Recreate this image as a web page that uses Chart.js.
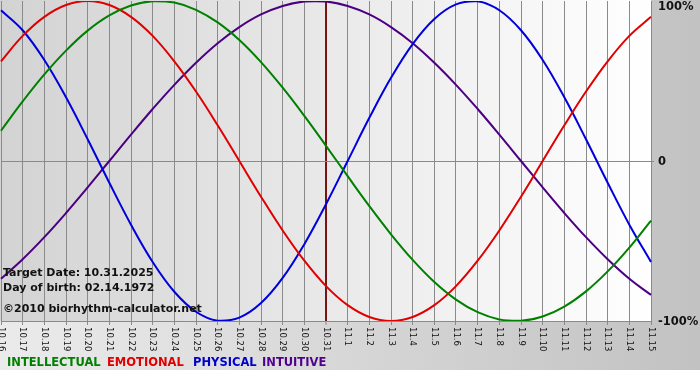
<!DOCTYPE html>
<html>
<head>
<meta charset="utf-8">
<script src="https://cdn.jsdelivr.net/npm/chart.js@4/dist/chart.umd.min.js"></script>
<style>
  html, body { margin: 0; padding: 0; background: #ffffff; }
  #wrap { width: 700px; height: 380px; }
</style>
</head>
<body>
<div id="wrap"><canvas id="c" width="700" height="380"></canvas></div>
<script>
// ---- data ----
const dayLabels = ['10.16','10.17','10.18','10.19','10.20','10.21','10.22','10.23','10.24','10.25','10.26','10.27','10.28','10.29','10.30','10.31',
  '11.1','11.2','11.3','11.4','11.5','11.6','11.7','11.8','11.9','11.10','11.11','11.12','11.13','11.14','11.15'];
const intellectual = [18.9,37.2,54.1,69.0,81.5,91.0,97.2,99.9,99.0,94.5,86.6,75.6,61.8,45.8,28.2,9.5,-9.5,-28.2,-45.8,-61.8,-75.6,-86.6,-94.5,-99.0,-99.9,-97.2,-91.0,-81.5,-69.0,-54.1,-37.2];
const emotional    = [62.3,78.2,90.1,97.5,100,97.5,90.1,78.2,62.3,43.4,22.3,0,-22.3,-43.4,-62.3,-78.2,-90.1,-97.5,-100,-97.5,-90.1,-78.2,-62.3,-43.4,-22.3,0,22.3,43.4,62.3,78.2,90.1];
const physical     = [94.2,81.7,63.1,39.8,13.6,-13.6,-39.8,-63.1,-81.7,-94.2,-99.8,-97.9,-88.8,-73.1,-52.0,-27.0,0,27.0,52.0,73.1,88.8,97.9,99.8,94.2,81.7,63.1,39.8,13.6,-13.6,-39.8,-63.1];
const intuitive    = [-73.6,-61.4,-47.6,-32.5,-16.5,0,16.5,32.5,47.6,61.4,73.6,83.7,91.6,96.9,99.7,99.7,96.9,91.6,83.7,73.6,61.4,47.6,32.5,16.5,0,-16.5,-32.5,-47.6,-61.4,-73.6,-83.7];
const yTickValues  = [-100, 0, 100];
const yTickLabels  = ['-100%', '0', '100%'];
const targetLabel  = '10.31';
const infoLines    = ['Target Date: 10.31.2025', 'Day of birth: 02.14.1972', '\u00A92010 biorhythm-calculator.net'];
const legendNames  = ['INTELLECTUAL', 'EMOTIONAL', 'PHYSICAL', 'INTUITIVE'];

const COLORS = { intellectual: '#008000', emotional: '#e00000', physical: '#0000dd', intuitive: '#4b0082' };
const LEGEND_COLORS = ['#008000', '#e00000', '#0000cc', '#500090'];
const GRID = '#8a8a8a';
const targetIndex = dayLabels.indexOf(targetLabel);

const bgPlugin = {
  id: 'bg',
  beforeDraw(chart) {
    const { ctx, chartArea: a } = chart;
    ctx.save();
    ctx.fillStyle = '#ffffff';
    ctx.fillRect(0, 0, 700, 380);
    let g = ctx.createLinearGradient(0, 0, 700, 0);
    g.addColorStop(0, '#ebebeb');
    g.addColorStop(1, '#c2c2c2');
    ctx.fillStyle = g;
    ctx.fillRect(0, 0, 700, 370);
    g = ctx.createLinearGradient(a.left, 0, a.right, 0);
    g.addColorStop(0, '#d3d3d3');
    g.addColorStop(1, '#ffffff');
    ctx.fillStyle = g;
    ctx.fillRect(0, 0, a.right, a.bottom);
    ctx.restore();
  }
};

const textPlugin = {
  id: 'texts',
  afterDraw(chart) {
    const { ctx, chartArea: a } = chart;
    const xs = chart.scales.x, ys = chart.scales.y;
    ctx.save();
    ctx.fillStyle = '#111111';
    ctx.font = '8.5px "DejaVu Sans"';
    ctx.textAlign = 'left';
    ctx.textBaseline = 'middle';
    xs.ticks.forEach((t, i) => {
      const x = xs.getPixelForTick(i);
      ctx.save();
      ctx.translate(x, a.bottom + 6);
      ctx.rotate(Math.PI / 2);
      ctx.fillText(dayLabels[i], 0, 0);
      ctx.restore();
    });
    ctx.font = 'bold 11.5px "DejaVu Sans"';
    ctx.textBaseline = 'middle';
    yTickValues.forEach((v, i) => {
      let y = ys.getPixelForValue(v) + 1;
      y = Math.max(y, 7);
      ctx.fillText(yTickLabels[i], a.right + 7, y);
    });
    ctx.font = 'bold 11px "DejaVu Sans"';
    ctx.textBaseline = 'alphabetic';
    ctx.fillStyle = '#111111';
    const infoY = [276, 291, 312];
    infoLines.forEach((s, i) => ctx.fillText(s, 3, infoY[i]));
    ctx.font = 'bold 11.5px "DejaVu Sans"';
    const legX = [7, 107, 193, 262];
    legendNames.forEach((s, i) => {
      ctx.fillStyle = LEGEND_COLORS[i];
      ctx.fillText(s, legX[i], 366);
    });
    ctx.restore();
  }
};

const mk = (label, data, color) => ({
  label, data, borderColor: color, borderWidth: 2, pointRadius: 0, fill: false,
  tension: 0.4
});

new Chart(document.getElementById('c'), {
  type: 'line',
  data: {
    labels: dayLabels,
    datasets: [
      mk('INTELLECTUAL', intellectual, COLORS.intellectual),
      mk('EMOTIONAL', emotional, COLORS.emotional),
      mk('PHYSICAL', physical, COLORS.physical),
      mk('INTUITIVE', intuitive, COLORS.intuitive)
    ]
  },
  options: {
    responsive: false,
    devicePixelRatio: 1,
    animation: false,
    events: [],
    layout: { padding: { left: 1, top: 1, right: 0, bottom: 0 } },
    plugins: { legend: { display: false }, tooltip: { enabled: false }, title: { display: false } },
    scales: {
      x: {
        type: 'category',
        offset: false,
        ticks: { display: false, autoSkip: false },
        grid: {
          color: c => c.index === targetIndex ? '#7a1414' : GRID,
          lineWidth: c => c.index === targetIndex ? 2 : 1,
          drawTicks: true, tickLength: 4, tickColor: GRID, tickWidth: 1
        },
        border: { display: true, color: GRID },
        afterFit(s) { s.height = 59; s.paddingLeft = 0; s.paddingRight = 0; }
      },
      y: {
        position: 'right',
        min: -100, max: 100,
        afterBuildTicks(s) { s.ticks = yTickValues.map(v => ({ value: v })); },
        ticks: { display: false },
        grid: {
          color: c => (c.tick && c.tick.value === 0) ? GRID : 'rgba(0,0,0,0)',
          drawTicks: true, tickLength: 3
        },
        border: { display: false },
        afterFit(s) { s.width = 49; s.paddingTop = 0; s.paddingBottom = 0; }
      }
    }
  },
  plugins: [bgPlugin, textPlugin]
});
</script>
</body>
</html>
